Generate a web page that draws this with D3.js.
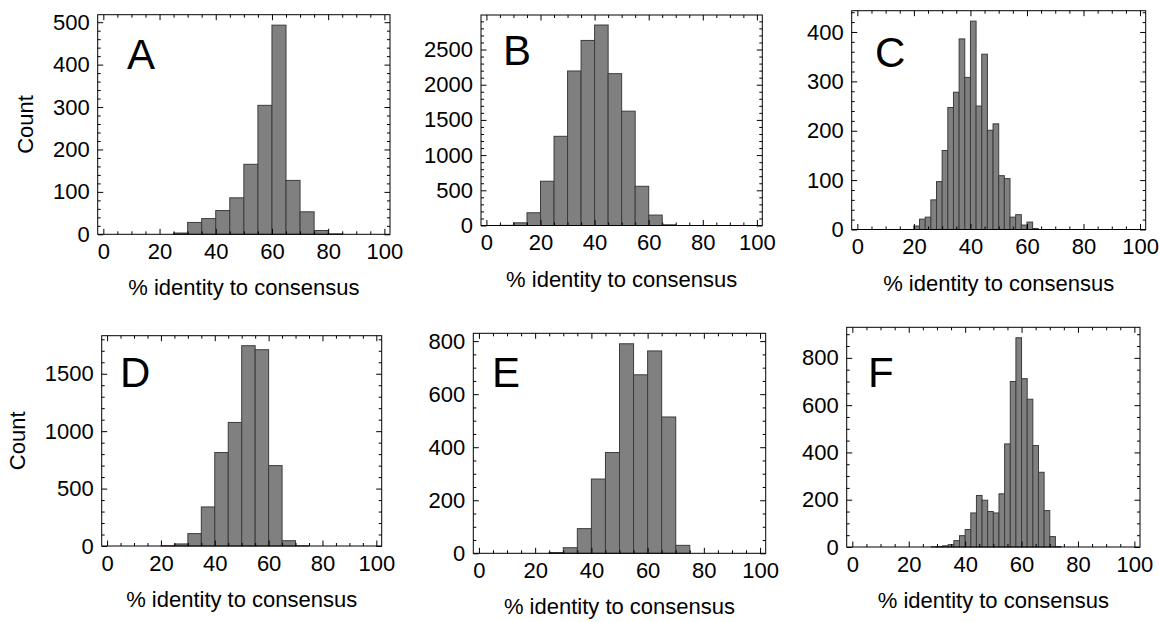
<!DOCTYPE html>
<html>
<head>
<meta charset="utf-8">
<script src="https://cdn.jsdelivr.net/npm/d3@7"></script>
<style>
  body { margin: 0; background: #fff; }
  text { font-family: "Liberation Sans", Arial, Helvetica, sans-serif; fill: #000; }
</style>
</head>
<body>
<svg id="chart" width="1159" height="622"></svg>
<script>
// histogram data
const letters = ["A", "B", "C", "D", "E", "F"];
const binStart = [25, 5, 20, 20, 25, 28];
const binWidth = [5, 5, 2, 5, 5, 2];
const countsA = [3, 28, 37, 56, 86, 165, 304, 493, 127, 53, 9, 1];
const countsB = [2, 38, 181, 629, 1267, 2195, 2629, 2848, 2157, 1624, 557, 148, 10];
const countsC = [7, 21, 25, 60, 97, 160, 247, 278, 386, 308, 422, 250, 355, 201, 214, 109, 103, 25, 30, 9, 15, 2];
const countsD = [2, 18, 108, 340, 814, 1076, 1744, 1709, 700, 46, 2];
const countsE = [3, 21, 93, 280, 380, 790, 673, 763, 514, 30];
const countsF = [1, 2, 5, 10, 27, 48, 74, 144, 218, 198, 150, 144, 225, 436, 700, 885, 712, 625, 429, 316, 154, 44, 2];
const counts = [countsA, countsB, countsC, countsD, countsE, countsF];

const xMajor = [0, 20, 40, 60, 80, 100];
const xMinorStep = 5;
const yMajorStep = [100, 500, 100, 500, 200, 200];
const yMinorStep = [20, 100, 20, 100, 50, 50];

const xLabel = "% identity to consensus";
const yLabel = "Count";

// panel frames on the page
const frames = [
  { l: 97.7, r: 390, t: 14.7, b: 234.3, lx: 127, ly: 69, cx: 33 },
  { l: 481, r: 762.3, t: 15, b: 225.5, lx: 503, ly: 65, cx: null },
  { l: 851.7, r: 1145.7, t: 10.7, b: 229.5, lx: 875, ly: 66.5, cx: null },
  { l: 101.7, r: 381.7, t: 335.7, b: 546, lx: 120, ly: 386.5, cx: 25 },
  { l: 473.3, r: 765.7, t: 333.3, b: 553.3, lx: 492, ly: 386.5, cx: null },
  { l: 846.7, r: 1140, t: 327.3, b: 547, lx: 868, ly: 386.5, cx: null }
];

const svg = d3.select("#chart");
const font = "Liberation Sans, Arial, Helvetica, sans-serif";
const fmt = d3.format("d");

function range(step, max) {
  const out = [];
  for (let v = 0; v <= max + 1e-9; v += step) out.push(+v.toFixed(6));
  return out;
}

function drawPanel(i) {
  const f = frames[i];
  const data = counts[i].map((c, k) => ({ x0: binStart[i] + k * binWidth[i], x1: binStart[i] + (k + 1) * binWidth[i], c: c }));
  const yMax = d3.max(counts[i]) * 1.05;

  const x = d3.scaleLinear().domain([-2, 102]).range([f.l, f.r]);
  const y = d3.scaleLinear().domain([0, yMax]).range([f.b, f.t]);

  const g = svg.append("g");

  g.append("g")
    .selectAll("rect")
    .data(data.filter(d => d.c > 0))
    .join("rect")
    .attr("x", d => x(d.x0))
    .attr("y", d => y(d.c))
    .attr("width", d => x(d.x1) - x(d.x0))
    .attr("height", d => y(0) - y(d.c))
    .attr("fill", "#808080")
    .attr("stroke", "#3c3c3c")
    .attr("stroke-width", 1);

  const xMinor = range(xMinorStep, 100).filter(v => !xMajor.includes(v));
  const yMaj = range(yMajorStep[i], yMax);
  const yMin = range(yMinorStep[i], yMax).filter(v => !yMaj.includes(v));

  const axes = [
    [d3.axisBottom(x).tickValues(xMajor).tickSize(-5.5).tickPadding(9).tickFormat(fmt), `translate(0,${f.b})`],
    [d3.axisBottom(x).tickValues(xMinor).tickSize(-3).tickFormat(""), `translate(0,${f.b})`],
    [d3.axisTop(x).tickValues(xMajor).tickSize(-5.5).tickFormat(""), `translate(0,${f.t})`],
    [d3.axisTop(x).tickValues(xMinor).tickSize(-3).tickFormat(""), `translate(0,${f.t})`],
    [d3.axisLeft(y).tickValues(yMaj).tickSize(-5.5).tickPadding(8).tickFormat(fmt), `translate(${f.l},0)`],
    [d3.axisLeft(y).tickValues(yMin).tickSize(-3).tickFormat(""), `translate(${f.l},0)`],
    [d3.axisRight(y).tickValues(yMaj).tickSize(-5.5).tickFormat(""), `translate(${f.r},0)`],
    [d3.axisRight(y).tickValues(yMin).tickSize(-3).tickFormat(""), `translate(${f.r},0)`]
  ];
  axes.forEach(([ax, tr]) => {
    const a = g.append("g").attr("transform", tr).call(ax)
      .attr("font-size", 22).attr("font-family", font);
    a.select(".domain").remove();
    a.selectAll(".tick line").attr("stroke", "#000");
  });

  g.append("rect")
    .attr("x", f.l).attr("y", f.t)
    .attr("width", f.r - f.l).attr("height", f.b - f.t)
    .attr("fill", "none").attr("stroke", "#000").attr("stroke-width", 1);

  g.append("text")
    .attr("x", f.lx).attr("y", f.ly)
    .attr("font-size", 42)
    .text(letters[i]);

  g.append("text")
    .attr("x", (f.l + f.r) / 2).attr("y", f.b + 61)
    .attr("text-anchor", "middle")
    .attr("font-size", 22)
    .text(xLabel);

  if (f.cx !== null) {
    g.append("text")
      .attr("transform", `translate(${f.cx},${(f.t + f.b) / 2}) rotate(-90)`)
      .attr("text-anchor", "middle")
      .attr("font-size", 22)
      .text(yLabel);
  }
}

letters.forEach((_, i) => drawPanel(i));
</script>
</body>
</html>
